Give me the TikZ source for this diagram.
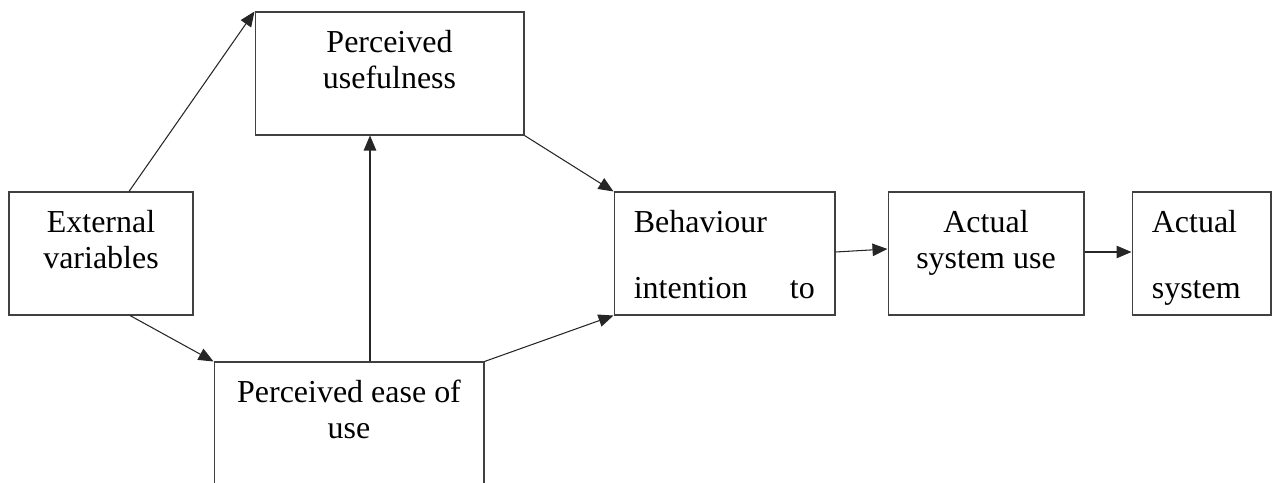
\documentclass[tikz,border=0pt]{standalone}
\usepackage{fontspec}
\setmainfont{Liberation Serif}
\usetikzlibrary{arrows.meta,positioning}

\begin{document}
\begin{tikzpicture}[x=0.02cm,y=-0.02cm]
\tikzstyle{box}=[draw=black!75,line width=0.6pt,rectangle,inner sep=0pt,minimum height=2.46cm]
\tikzstyle{txt}=[inner sep=0pt,font=\fontsize{18.2}{20.5}\selectfont]
\tikzstyle{arrow}=[draw=black!85,line width=0.6pt,-{Triangle[length=0.3cm,width=0.25cm]}]
\useasboundingbox (0,0) rectangle (1277,483);
\clip (0,0) rectangle (1277,483);
\node [box,minimum width=3.68cm] at (101,253.5) (ext) {};
\node [box,minimum width=5.38cm] at (389.5,73.5) (pu) {};
\node [box,minimum width=5.4cm,minimum height=3.2cm] at (349,442) (peou) {};
\node [box,minimum width=4.42cm] at (724.5,253.5) (bi) {};
\node [box,minimum width=3.92cm] at (986,253.5) (asu) {};
\node [box,minimum width=2.78cm] at (1201.5,253.5) (as) {};

\node [txt,align=center,below=0.36cm of ext.north] (extt) {External\\variables};
\node [txt,align=center,below=0.36cm of pu.north] (put) {Perceived\\usefulness};
\node [txt,align=center,below=0.36cm of peou.north] (peout) {Perceived ease of\\use};
\node [txt,align=left,below right=0.36cm and 0.4cm of bi.north west] (bit) {Behaviour\\[0.6cm]\makebox[3.62cm]{intention\hfill to}};
\node [txt,align=center,below=0.36cm of asu.north] (asut) {Actual\\system use};
\node [txt,align=left,below right=0.36cm and 0.4cm of as.north west] (ast) {Actual\\[0.6cm]system};

\draw [arrow] ([xshift=0.56cm]ext.north) -- (pu.north west);
\draw [arrow] ([xshift=0.58cm]ext.south) -- (peou.north west);
\draw [arrow] ([xshift=0.42cm]peou.north) -- ([xshift=0.42cm]peou.north |- pu.south);
\draw [arrow] (pu.south east) -- (bi.north west);
\draw [arrow] (peou.north east) -- (bi.south west);
\draw [arrow] ([yshift=0.03cm]bi.east) -- ([yshift=0.09cm]asu.west);
\draw [arrow] ([yshift=0.03cm]asu.east) -- ([yshift=0.03cm]as.west);
\end{tikzpicture}
\end{document}
